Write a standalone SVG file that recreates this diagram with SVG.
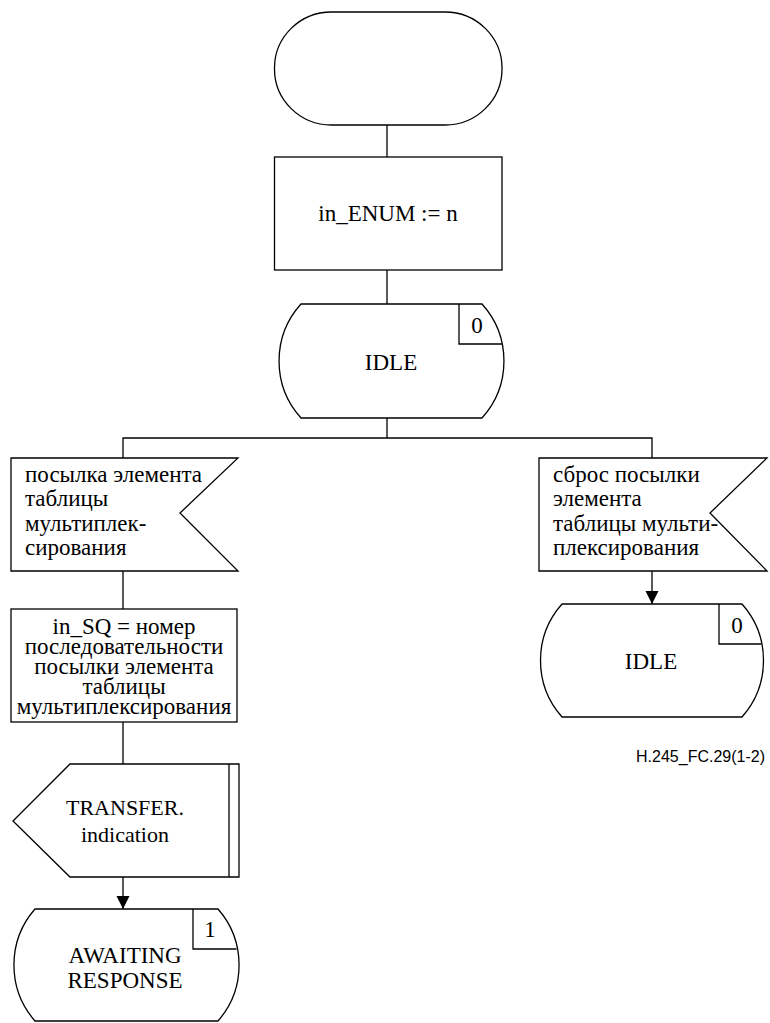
<svg xmlns="http://www.w3.org/2000/svg" width="770" height="1023" viewBox="0 0 770 1023">
<style>
.s{fill:#fff;stroke:#000;stroke-width:1.3}
.l{fill:none;stroke:#000;stroke-width:1.3}
.t{font-family:"Liberation Serif","Times New Roman",serif;font-size:23px;fill:#000}
.c{text-anchor:middle}
.f{font-family:"Liberation Sans",Arial,sans-serif;font-size:16px;fill:#000;text-anchor:end}
</style>
<defs>
<marker id="ah" markerWidth="14" markerHeight="14" refX="13" refY="7" orient="auto" markerUnits="userSpaceOnUse">
<path d="M0,0.5 L13,7 L0,13.5 Z" fill="#000"/>
</marker>
</defs>
<g id="connectors">
<path class="l" d="M387,125 V157"/>
<path class="l" d="M387,270 V304"/>
<path class="l" d="M387,418 V438"/>
<path class="l" d="M123,458 V438 H652 V458"/>
<path class="l" d="M123,571 V609"/>
<path class="l" d="M123,722 V764"/>
<path class="l" d="M123,877 V909" marker-end="url(#ah)"/>
<path class="l" d="M652,571 V604" marker-end="url(#ah)"/>
</g>
<g id="start">
<rect class="s" x="274.5" y="12" width="227.5" height="113" rx="57" ry="56"/>
</g>
<g id="task1">
<rect class="s" x="274.5" y="157" width="227.5" height="113"/>
<text class="t c" x="388" y="221">in_ENUM := n</text>
</g>
<g id="state-idle-1">
<path class="s" d="M301,304 H482 A85,85 0 0 1 482,418 H301 A85,85 0 0 1 301,304 Z"/>
<path class="l" d="M459,304 V344 H502.3"/>
<text class="t c" x="477" y="333">0</text>
<text class="t c" x="391" y="370">IDLE</text>
</g>
<g id="input-left">
<path class="s" d="M11,458 H238 L180,513 L238,571 H11 Z"/>
<text class="t" x="25" y="482">посылка элемента</text>
<text class="t" x="25" y="506">таблицы</text>
<text class="t" x="25" y="531">мультиплек-</text>
<text class="t" x="25" y="555">сирования</text>
</g>
<g id="input-right">
<path class="s" d="M539,458 H767 L710,513 L767,571 H539 Z"/>
<text class="t" x="553" y="482">сброс посылки</text>
<text class="t" x="553" y="506">элемента</text>
<text class="t" x="553" y="531">таблицы мульти-</text>
<text class="t" x="553" y="555">плексирования</text>
</g>
<g id="task2">
<rect class="s" x="11" y="609" width="226" height="113"/>
<text class="t c" x="124" y="634">in_SQ = номер</text>
<text class="t c" x="124" y="654">последовательности</text>
<text class="t c" x="124" y="674">посылки элемента</text>
<text class="t c" x="124" y="694">таблицы</text>
<text class="t c" x="124" y="714">мультиплексирования</text>
</g>
<g id="output">
<path class="s" d="M70,764 H239 V877 H70 L13,821 Z"/>
<path class="l" d="M229,764 V877"/>
<text class="t c" x="125" y="815" style="font-size:22px">TRANSFER.</text>
<text class="t c" x="125" y="842" style="font-size:22px">indication</text>
</g>
<g id="state-awaiting">
<path class="s" d="M35,909 H218 A85,85 0 0 1 218,1021 H35 A85,85 0 0 1 35,909 Z"/>
<path class="l" d="M193,909 V949 H236.5"/>
<text class="t c" x="210" y="937">1</text>
<text class="t c" x="125" y="963">AWAITING</text>
<text class="t c" x="125" y="988">RESPONSE</text>
</g>
<g id="state-idle-2">
<path class="s" d="M562,604 H742 A85,85 0 0 1 742,717 H562 A85,85 0 0 1 562,604 Z"/>
<path class="l" d="M719,604 V644 H761.5"/>
<text class="t c" x="737" y="633">0</text>
<text class="t c" x="651" y="669">IDLE</text>
</g>
<text class="f" x="765" y="762">H.245_FC.29(1-2)</text>
</svg>
